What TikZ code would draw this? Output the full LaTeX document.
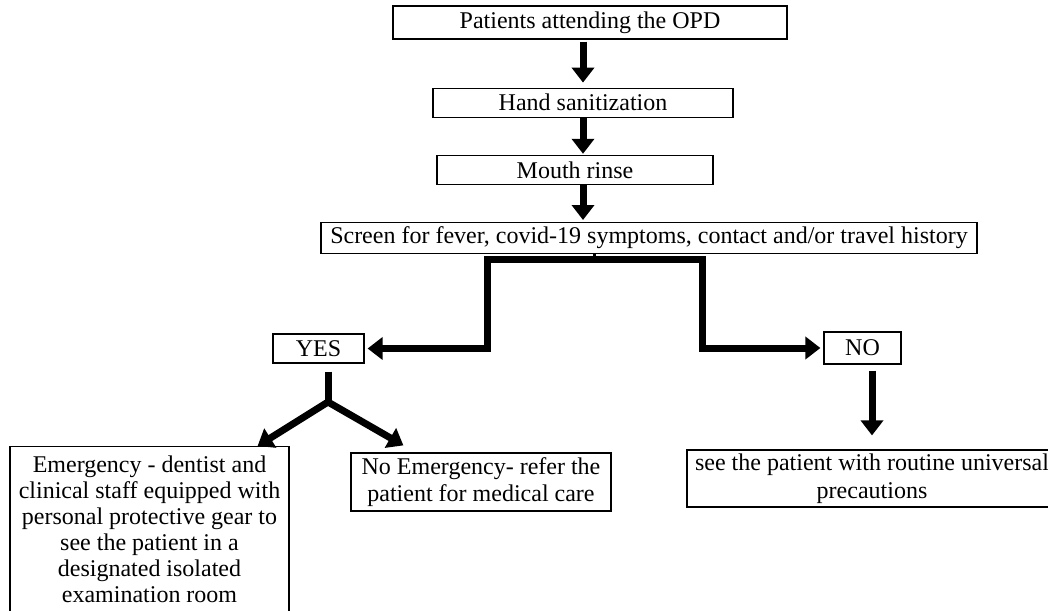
\documentclass[tikz,border=0pt]{standalone}
\usepackage{fontspec}
\setmainfont{Liberation Serif}
\usepackage{tikz}
\usetikzlibrary{positioning,arrows.meta}

\begin{document}
\begin{tikzpicture}[x=1pt, y=-1pt,
        box/.style={draw, line width=1.2pt, align=center, inner xsep=4pt, inner ysep=3pt,
                    font=\fontsize{24}{27.5}\selectfont},
        fat/.style={line width=7pt, -{Triangle[length=15pt,width=22pt]}},
        node distance=37pt
    ]
        \useasboundingbox (0,0) rectangle (1048,610);
        \node[box, minimum width=394pt, minimum height=33pt] (opd) at (590,22.5) {Patients attending the OPD};
        \node[box, minimum width=300pt, minimum height=29pt, below=48pt of opd, xshift=-7pt] (hand) {Hand sanitization};
        \node[box, minimum width=276pt, minimum height=29pt, below=of hand, xshift=-8pt] (rinse) {Mouth rinse};
        \node[box, minimum width=656pt, minimum height=31pt, below=of rinse, xshift=74pt] (screen) {Screen for fever, covid-19 symptoms, contact and/or travel history};
        \node[box, minimum width=91pt, minimum height=29pt] (yes) at (318.5,348.5) {YES};
        \node[box, minimum width=77pt, minimum height=32pt] (no) at (862.5,348) {NO};
        \node[box, minimum width=279pt, anchor=north, inner ysep=9pt, font=\fontsize{24}{26}\selectfont] (emerg) at (149.5,446) {Emergency - dentist and\\clinical staff equipped with\\personal protective gear to\\see the patient in a\\designated isolated\\examination room};
        \node[box, minimum width=260pt, minimum height=58pt] (noemerg) at (481,482) {No Emergency- refer the\\patient for medical care};
        \node[box, minimum width=370pt, minimum height=57pt] (rout) at (872,478.5) {see the patient with routine universal\\precautions};
        \draw[fat, shorten <=2pt, shorten >=5pt] (opd.south -| hand.north) -- (hand.north);
        \draw[fat, shorten >=1pt] (hand.south) -- (hand.south |- rinse.north);
        \draw[fat, shorten >=2pt] (hand.south |- rinse.south) -- (hand.south |- screen.north);
        % split into yes / no
        \coordinate (split) at (594,259);
        \coordinate (lbend) at (487,259);
        \coordinate (rbend) at (702,259);
        \draw[line width=3pt] (screen.south -| split) -- (split);
        \draw[fat, shorten >=3pt] (split) -- (lbend) |- (yes);
        \draw[fat, shorten >=3pt] (split) -- (rbend) |- (no);
        % yes branch
        \coordinate (fork) at (328,402);
        \draw[line width=7pt, shorten <=8pt] (yes.south -| fork) -- (fork);
        \draw[fat, line cap=round] (fork) -- ([xshift=-32pt]emerg.north east);
        \draw[fat, line cap=round] (fork) -- ([xshift=53pt,yshift=7pt]noemerg.north west);
        \draw[fat, shorten <=6pt, shorten >=14pt] (no.south -| rout.north) -- (rout.north);
    \end{tikzpicture}
\end{document}
